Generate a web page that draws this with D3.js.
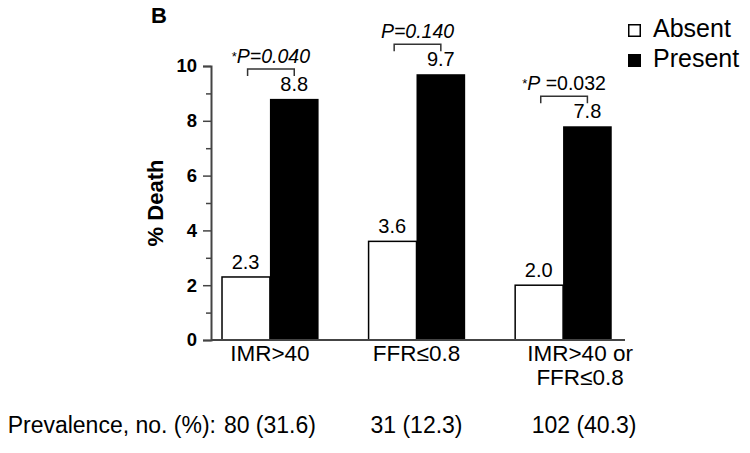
<!DOCTYPE html>
<html>
<head>
<meta charset="utf-8">
<script src="https://cdn.jsdelivr.net/npm/d3@7"></script>
<style>
  body { margin: 0; background: #fff; }
  text { font-family: "Liberation Sans", Arial, sans-serif; }
</style>
</head>
<body>
<svg id="chart"></svg>
<script>
// data
const categories = [['IMR>40'], ['FFR\u22640.8'], ['IMR>40 or', 'FFR\u22640.8']];
const series = ['Absent', 'Present'];
const absentValues = [2.3, 3.6, 2.0];
const presentValues = [8.8, 9.7, 7.8];
const pValues = ['0.040', '0.140', '0.032'];
const pSignificant = [true, false, true];
const prevalence = ['80 (31.6)', '31 (12.3)', '102 (40.3)'];
const yTicks = [0, 2, 4, 6, 8, 10];
const yMinorTicks = [1, 3, 5, 7, 9];

const svg = d3.select('#chart')
  .attr('width', 750)
  .attr('height', 453);

const x = d3.scaleBand()
  .domain(d3.range(categories.length))
  .range([211, 622])
  .paddingInner(0.336)
  .paddingOuter(0.07);

const xs = d3.scaleBand()
  .domain(series)
  .range([0, x.bandwidth()]);

const y = d3.scaleLinear()
  .domain([0, 10])
  .range([340, 66]);

const axisColor = '#444';

// panel letter
svg.append('text')
  .attr('x', 151).attr('y', 23)
  .style('font-size', '22px').style('font-weight', 'bold')
  .text('B');

// bars
const rows = categories.map((c, i) => ({ i, Absent: absentValues[i], Present: presentValues[i] }));
const groups = svg.selectAll('.group')
  .data(rows)
  .enter()
  .append('g')
  .attr('class', 'group')
  .attr('transform', d => `translate(${x(d.i)},0)`);

groups.selectAll('rect')
  .data(d => series.map(s => ({ s, v: d[s] })))
  .enter()
  .append('rect')
  .attr('x', d => xs(d.s) + (d.s === 'Absent' ? 0.75 : 0))
  .attr('y', d => y(d.v))
  .attr('width', d => xs.bandwidth() - (d.s === 'Absent' ? 0.75 : 0))
  .attr('height', d => y(0) - y(d.v))
  .attr('fill', d => d.s === 'Absent' ? '#fff' : '#000')
  .attr('stroke', '#000')
  .attr('stroke-width', d => d.s === 'Absent' ? 1.5 : 0);

groups.selectAll('.val')
  .data(d => series.map(s => ({ s, v: d[s] })))
  .enter()
  .append('text')
  .attr('class', 'val')
  .attr('x', d => xs(d.s) + xs.bandwidth() / 2)
  .attr('y', d => y(d.v) - 8)
  .attr('text-anchor', 'middle')
  .style('font-size', '20px')
  .text(d => d.v.toFixed(1));

// significance brackets
groups.each(function (d) {
  const g = d3.select(this);
  const top = y(Math.max(d.Absent, d.Present)) - 30;
  const x1 = xs('Absent') + xs.bandwidth() / 2 + 2;
  const x2 = xs('Present') + xs.bandwidth() / 2;
  g.append('path')
    .attr('d', `M${x1},${top + 7}V${top}H${x2}V${top + 7}`)
    .attr('fill', 'none')
    .attr('stroke', '#333')
    .attr('stroke-width', 1.5);
  const t = g.append('text')
    .attr('x', (x1 + x2) / 2)
    .attr('y', top - 6)
    .attr('text-anchor', 'middle')
    .style('font-size', '19.5px');
  if (pSignificant[d.i]) t.append('tspan').text('*').attr('font-size', '13px').attr('dy', -2);
  t.append('tspan').text('P').style('font-style', 'italic').attr('dy', pSignificant[d.i] ? 2 : 0);
  if (d.i === 2) {
    t.append('tspan').text(' =' + pValues[d.i]);
  } else {
    t.append('tspan').text('=' + pValues[d.i]).style('font-style', 'italic');
  }
});

// y axis
const yAxis = svg.append('g')
  .attr('transform', 'translate(211,0)')
  .call(d3.axisLeft(y).tickValues(yTicks).tickSize(8).tickPadding(6).tickFormat(d3.format('d')));
yAxis.select('.domain').attr('stroke', axisColor).attr('stroke-width', 2);
yAxis.selectAll('.tick line').attr('stroke', axisColor).attr('stroke-width', 1.5);
yAxis.selectAll('.tick text')
  .attr('fill', '#000')
  .style('font-size', '18.5px').style('font-weight', 'bold')
  .style('font-family', '"Liberation Sans", Arial, sans-serif');

const yMinor = svg.append('g')
  .attr('transform', 'translate(211,0)')
  .call(d3.axisLeft(y).tickValues(yMinorTicks).tickSize(5).tickFormat(''));
yMinor.select('.domain').remove();
yMinor.selectAll('.tick line').attr('stroke', axisColor).attr('stroke-width', 1.5);

svg.append('text')
  .attr('transform', `translate(163,${(y(0) + y(10)) / 2}) rotate(-90)`)
  .attr('text-anchor', 'middle')
  .style('font-size', '22px').style('font-weight', 'bold')
  .text('% Death');

// x axis (line only)
const xAxis = svg.append('g')
  .attr('transform', `translate(0,${y(0)})`)
  .call(d3.axisBottom(x).tickSize(0).tickFormat(''));
xAxis.select('.domain')
  .attr('d', 'M211,0H625')
  .attr('stroke', axisColor).attr('stroke-width', 2);

// category labels
const catLabels = svg.selectAll('.cat')
  .data(categories)
  .enter()
  .append('text')
  .attr('class', 'cat')
  .attr('text-anchor', 'middle')
  .attr('y', y(0) + 21)
  .style('font-size', '22.5px');
catLabels.selectAll('tspan')
  .data((d, i) => d.map(line => ({ line, i })))
  .enter()
  .append('tspan')
  .attr('x', d => x(d.i) + x.bandwidth() / 2 + (d.i === 2 ? 17 : 0))
  .attr('dy', (d, j) => j === 0 ? 0 : 24)
  .text(d => d.line);

// prevalence row
svg.append('text')
  .attr('x', 216).attr('y', 433)
  .attr('text-anchor', 'end')
  .style('font-size', '23px')
  .text('Prevalence, no. (%):');
svg.selectAll('.prev')
  .data(prevalence)
  .enter()
  .append('text')
  .attr('class', 'prev')
  .attr('x', (d, i) => x(i) + x.bandwidth() / 2 + (i === 2 ? 21 : 0))
  .attr('y', 433)
  .attr('text-anchor', 'middle')
  .style('font-size', '23px')
  .text(d => d);

// legend
const legend = svg.selectAll('.legend')
  .data(series)
  .enter()
  .append('g')
  .attr('class', 'legend')
  .attr('transform', (d, i) => `translate(628,${24 + i * 30})`);
legend.append('rect')
  .attr('x', 0.75).attr('y', 0.75)
  .attr('width', 11.5).attr('height', 11.5)
  .attr('fill', d => d === 'Absent' ? '#fff' : '#000')
  .attr('stroke', '#000')
  .attr('stroke-width', 1.5);
legend.append('text')
  .attr('x', 25).attr('y', 12.5)
  .style('font-size', '25px')
  .text(d => d);
</script>
</body>
</html>
